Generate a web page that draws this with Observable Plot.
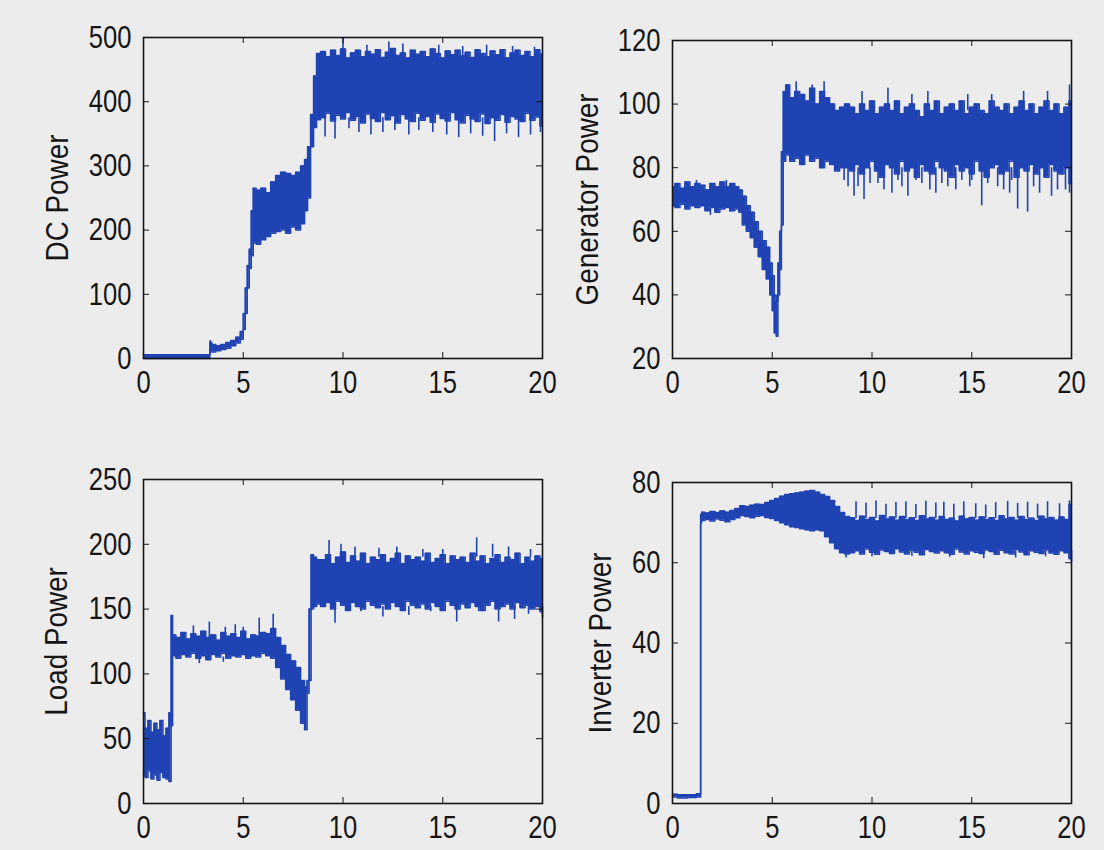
<!DOCTYPE html>
<html>
<head>
<meta charset="utf-8">
<script src="https://cdn.jsdelivr.net/npm/d3@7"></script>
<script src="https://cdn.jsdelivr.net/npm/@observablehq/plot@0.6"></script>
<style>
  html, body { margin: 0; padding: 0; background: #ececec; }
  #root { position: relative; width: 1104px; height: 850px; background: #ececec; overflow: hidden; }
  #root svg { position: absolute; }
</style>
</head>
<body>
<div id="root"></div>
<script>
// ---------- shared ----------
const xTicks = [0, 5, 10, 15, 20];
const late = [9,9.25,9.5,9.75,10,10.25,10.5,10.75,11,11.25,11.5,11.75,12,12.25,12.5,12.75,13,13.25,13.5,13.75,14,14.25,14.5,14.75,15,15.25,15.5,15.75,16,16.25,16.5,16.75,17,17.25,17.5,17.75,18,18.25,18.5,18.75,19,19.25,19.5,19.75,20];

// ---------- DC Power ----------
const dcTicks = [0, 100, 200, 300, 400, 500];
const dcT = [0,1,2,3,3.3,3.35,3.5,3.75,4,4.25,4.5,4.75,4.95,5.05,5.15,5.25,5.35,5.45,5.55,5.75,6,6.25,6.5,6.75,7,7.25,7.5,7.75,8,8.15,8.3,8.45,8.6,8.75, ...late];
const dcLo = [0,0,0,0,0,10,10,12,14,16,20,24,30,45,70,110,140,160,180,178,185,190,195,198,200,195,205,200,210,230,250,330,360,372,
  375,382,370,379,373,383,371,377,367,381,374,369,383,372,378,367,380,373,369,382,371,377,368,381,374,370,383,372,367,379,373,369,381,366,375,371,380,368,377,373,369,382,371,376,362];
const dcHi = [6,6,6,6,6,25,22,20,22,25,28,33,42,70,110,145,170,230,265,262,265,258,275,285,290,288,285,290,300,310,330,380,440,475,
  478,470,480,472,482,468,476,480,470,478,474,481,469,477,483,472,476,468,480,474,478,470,482,475,468,479,473,480,471,477,469,481,475,470,479,473,481,468,476,480,472,478,470,481,474];
const dcSpikeT  = [3.35,9.1,9.6,10.3,10.8,11.4,12.0,12.6,13.3,13.8,14.5,15.2,15.8,16.4,17.0,17.6,18.2,18.8,19.4,19.9,10.0,11.2,12.3,13.0,14.8,16.0,17.2,18.5,19.6];
const dcSpikeY1 = [20,375,375,375,375,375,375,375,375,375,375,375,375,375,375,375,375,375,375,375,470,470,470,470,470,470,470,470,470];
const dcSpikeY2 = [28,345,342,358,352,348,352,355,348,355,352,348,344,350,346,338,350,344,348,352,500,488,493,490,488,486,488,486,485];

// ---------- Generator Power ----------
const genTicks = [20, 40, 60, 80, 100, 120];
const genT = [0,0.25,0.5,0.75,1,1.25,1.5,1.75,2,2.25,2.5,2.75,3,3.25,3.4,3.6,3.8,4,4.2,4.4,4.6,4.8,4.95,5.05,5.15,5.25,5.32,5.42,5.5,5.6,5.75,6,6.25,6.5,6.75,7,7.25,7.5,7.75,8,8.25,8.5,8.75, ...late];
const genLo = [68,67.5,68.5,67,68,67.5,68,66.5,67.5,66,67,67.5,66.5,67,66,62,60,58,55,52,48,45,40,35,28,27,40,48,62,82,84,82,83,81,84,82,83,80,82,81,79,80,80,
  79,81,78,80,82,79,77,81,80,78,82,79,80,77,81,79,78,82,80,79,77,81,79,80,78,82,79,77,80,81,78,79,82,77,80,79,81,78,80,77,81,79,78,80,75];
const genHi = [74,75,73.5,75.5,74,75,74.5,73,75,74,75.5,74,75,74,73,71,68,66,63,60,57,55,50,46,40,38,50,60,85,104,106,102,104,103,101,105,100,104,102,100,98,99,100,
  99,97,100,98,101,97,99,100,98,101,97,99,100,98,96,100,98,101,97,99,100,98,101,97,99,100,98,97,101,99,98,100,97,99,101,98,100,97,99,101,98,100,97,99,101];
const genSpikeT  = [1.9,2.9,8.6,8.8,9.1,9.3,9.6,9.9,10.3,10.6,11.0,11.3,11.5,11.8,12.2,12.5,12.9,13.2,13.5,13.8,14.2,14.5,14.9,15.0,15.5,15.8,16.3,16.6,16.9,17.0,17.3,17.8,18.1,18.4,18.7,19.0,19.3,19.7,19.9,
  1.2,2.7,6.2,7.0,7.6,9.5,10.8,12.0,12.8,14.8,16.0,17.6,18.8,19.9];
const genSpikeY1 = [68,68,80,80,80,80,80,80,80,80,80,80,80,80,80,80,80,80,80,80,80,80,80,80,80,80,80,80,80,80,80,80,80,80,80,80,80,80,80,
  74,74,100,100,100,98,98,98,98,98,98,98,98,98];
const genSpikeY2 = [65,66,76,74,71,74,70,75,75,73,72,76,74,71,76,75,73,72,75,74,73,76,74,76,68,75,74,73,72,76,67,66,74,72,77,71,73,73,72,
  76,76,107,106,107,104,105,103,104,103,103,104,104,106];

// ---------- Load Power ----------
const loadTicks = [0, 50, 100, 150, 200, 250];
const loadT = [0,0.15,0.3,0.45,0.6,0.75,0.9,1.05,1.2,1.35,1.42,1.5,1.75,2,2.25,2.5,2.75,3,3.25,3.5,3.75,4,4.25,4.5,4.75,5,5.25,5.5,5.75,6,6.25,6.5,6.75,7,7.25,7.5,7.75,8,8.15,8.25,8.35,8.45,8.6,8.75, ...late];
const loadLo = [22,20,25,19,22,18,24,20,19,17,60,114,112,115,113,116,112,114,111,115,113,116,112,114,113,115,112,114,113,116,114,112,105,96,88,80,72,62,57,85,95,150,152,154,
  152,155,150,156,153,149,155,152,150,156,153,151,154,150,155,152,149,156,153,151,154,150,155,152,149,156,153,150,154,151,155,152,149,153,156,150,152,154,150,155,151,153,150,152,148];
const loadHi = [70,58,64,55,62,57,64,52,58,70,145,130,128,132,127,131,129,133,128,130,126,132,129,131,128,133,127,130,129,132,131,135,128,122,115,110,105,95,90,95,150,192,190,188,
  188,192,185,190,194,186,191,187,193,185,190,188,192,186,189,193,185,191,188,190,187,193,186,189,192,185,191,188,190,186,193,187,191,185,189,192,186,190,188,193,185,190,187,191,189];
const loadSpikeT  = [2.5,3.3,4.1,4.6,5.0,5.8,6.5,9.3,9.9,10.6,11.8,12.7,14.0,15.0,16.7,17.5,18.3,19.4,2.8,4.0,9.6,10.9,12.0,13.3,14.4,15.7,16.8,17.8,18.6,19.3,20];
const loadSpikeY1 = [128,128,128,128,128,128,128,190,190,190,190,190,190,190,190,190,190,190,113,113,152,152,152,152,152,152,152,152,152,152,152];
const loadSpikeY2 = [137,140,136,138,136,143,146,203,200,198,197,198,196,196,205,200,198,196,108,109,139,148,144,145,148,140,148,140,142,146,143];

// ---------- Inverter Power ----------
const invTicks = [0, 20, 40, 60, 80];
const invT = [0,0.5,1,1.4,1.42,1.5,1.75,2,2.25,2.5,2.75,3,3.25,3.5,3.75,4,4.25,4.5,4.75,5,5.25,5.5,5.75,6,6.25,6.5,6.75,7,7.25,7.5,7.75,8,8.25,8.5,8.75, ...late];
const invLo = [1.6,1.4,1.5,1.6,70,70.5,70.8,70.4,70.9,70.6,70.2,70.8,71.2,71.8,71.5,71.2,71.6,71.8,71.3,71.0,70.5,70.0,69.5,69.0,68.8,68.5,68.2,68.0,68.2,68.0,66.5,65.0,63.5,62.5,62.2,
  62.5,63,62.2,63.4,62.6,62.1,63.2,62.8,62.3,63.5,62.7,62.2,63.1,62.6,62.0,63.3,62.8,62.4,63.0,62.5,62.1,63.4,62.7,62.2,63.0,62.6,62.3,63.2,62.8,62.1,63.1,62.5,62.2,63.3,62.7,62.0,63.0,62.6,62.3,63.2,62.4,62.1,63.0,62.5,61];
const invHi = [2.3,2.2,2.2,2.4,72,72.6,72.4,72.8,72.5,72.9,72.6,73.0,73.5,74.2,74.0,74.3,74.6,74.5,75.0,75.5,76.0,76.6,77.0,77.2,77.4,77.6,77.8,78.0,77.6,77.0,76.5,75.5,74.0,72.5,71.5,
  71.2,70.5,71.6,70.8,71.3,70.4,71.8,70.9,71.4,70.6,71.5,70.8,71.2,70.5,71.7,70.9,71.3,70.6,71.5,70.8,71.1,70.4,71.6,70.9,71.3,70.6,71.4,70.8,71.2,70.5,71.7,70.9,71.3,70.6,71.5,70.8,71.1,70.5,71.6,70.9,71.3,70.6,71.4,70.8,74.5];
const invSpikeT  = [9.2,9.7,10.2,10.7,11.2,11.7,12.2,12.7,13.2,13.6,14.1,14.6,15.2,15.7,16.2,16.8,17.3,17.8,18.3,18.8,19.4,19.9,8.7,10.0,12.0,13.9,15.6,17.2,18.7,20];
const invSpikeY1 = [71,71,71,71,71,71,71,71,71,71,71,71,71,71,71,71,71,71,71,71,71,71,63,63,63,63,63,63,63,63];
const invSpikeY2 = [75.2,74.8,75.4,74.6,75.0,75.2,74.5,75.3,74.9,75.1,74.6,75.2,74.7,74.4,75.0,75.3,74.8,75.1,74.6,75.2,74.7,75.4,61.2,61.5,61.6,61.4,61.0,61.2,61.5,60];

// ---------- drawing ----------
const BLUE = "#2043b4";
const INK = "#161616";
const FONT = "'Liberation Sans Narrow', 'Arial Narrow', 'Liberation Sans', Arial, sans-serif";

function panel(cfg) {
  const {T, lo, hi, sT, s1, s2, yDomain, yTicks, label, labelOffset, left, top, fw, fh} = cfg;
  const ml = 120, mr = 30, mt = 20, mb = 55;
  const data = T.map((t, i) => ({t, lo: lo[i], hi: hi[i]}));
  const spikes = sT.map((t, i) => ({t, y1: s1[i], y2: s2[i]}));
  const chart = Plot.plot({
    width: fw + ml + mr,
    height: fh + mt + mb,
    marginLeft: ml, marginRight: mr, marginTop: mt, marginBottom: mb,
    style: {background: "transparent", fontFamily: FONT, fontSize: "32px", color: INK, overflow: "visible"},
    x: {domain: [0, 20], ticks: xTicks},
    y: {domain: yDomain, ticks: yTicks},
    marks: [
      Plot.areaY(data, {x: "t", y1: "lo", y2: "hi", curve: "step", fill: BLUE}),
      Plot.lineY(data, {x: "t", y: "hi", curve: "step", stroke: BLUE, strokeWidth: 1.5}),
      Plot.lineY(data, {x: "t", y: "lo", curve: "step", stroke: BLUE, strokeWidth: 1.5}),
      Plot.ruleX(spikes, {x: "t", y1: "y1", y2: "y2", stroke: BLUE, strokeWidth: 1.6}),
      Plot.frame({stroke: INK, strokeWidth: 1.6}),
      Plot.tickX(xTicks, {x: d => d, insetTop: fh - 6, stroke: INK}),
      Plot.tickX(xTicks, {x: d => d, insetBottom: fh - 6, stroke: INK}),
      Plot.tickY(yTicks, {y: d => d, insetRight: fw - 6, stroke: INK}),
      Plot.tickY(yTicks, {y: d => d, insetLeft: fw - 6, stroke: INK}),
      Plot.axisX({ticks: xTicks, tickSize: 0, tickPadding: 12, tickFormat: d => String(d), label: null, fontSize: 32}),
      Plot.axisY({ticks: yTicks, tickSize: 0, tickPadding: 12, tickFormat: d => String(d), label: null, fontSize: 32}),
      Plot.text([label], {frameAnchor: "left", rotate: -90, dx: -labelOffset, text: d => d, fontSize: 32, textAnchor: "middle", lineAnchor: "middle", fill: INK})
    ]
  });
  // condense the glyphs (the original uses a narrow face)
  chart.querySelectorAll("text").forEach(t => {
    const tr = t.getAttribute("transform");
    if (tr) t.setAttribute("transform", tr + (t.textContent.length > 4 ? " scale(0.87,1)" : " scale(0.8,1)"));
  });
  chart.style.left = (left - ml) + "px";
  chart.style.top = (top - mt) + "px";
  document.getElementById("root").appendChild(chart);
}

panel({T: dcT, lo: dcLo, hi: dcHi, sT: dcSpikeT, s1: dcSpikeY1, s2: dcSpikeY2,
  yDomain: [0, 500], yTicks: dcTicks, label: "DC Power", labelOffset: 86, left: 143, top: 37, fw: 399, fh: 321});
panel({T: genT, lo: genLo, hi: genHi, sT: genSpikeT, s1: genSpikeY1, s2: genSpikeY2,
  yDomain: [20, 120], yTicks: genTicks, label: "Generator Power", labelOffset: 85, left: 672, top: 40, fw: 399, fh: 318});
panel({T: loadT, lo: loadLo, hi: loadHi, sT: loadSpikeT, s1: loadSpikeY1, s2: loadSpikeY2,
  yDomain: [0, 250], yTicks: loadTicks, label: "Load Power", labelOffset: 87, left: 143, top: 479, fw: 399, fh: 324});
panel({T: invT, lo: invLo, hi: invHi, sT: invSpikeT, s1: invSpikeY1, s2: invSpikeY2,
  yDomain: [0, 80], yTicks: invTicks, label: "Inverter Power", labelOffset: 72, left: 672, top: 482, fw: 399, fh: 321});
</script>
</body>
</html>
